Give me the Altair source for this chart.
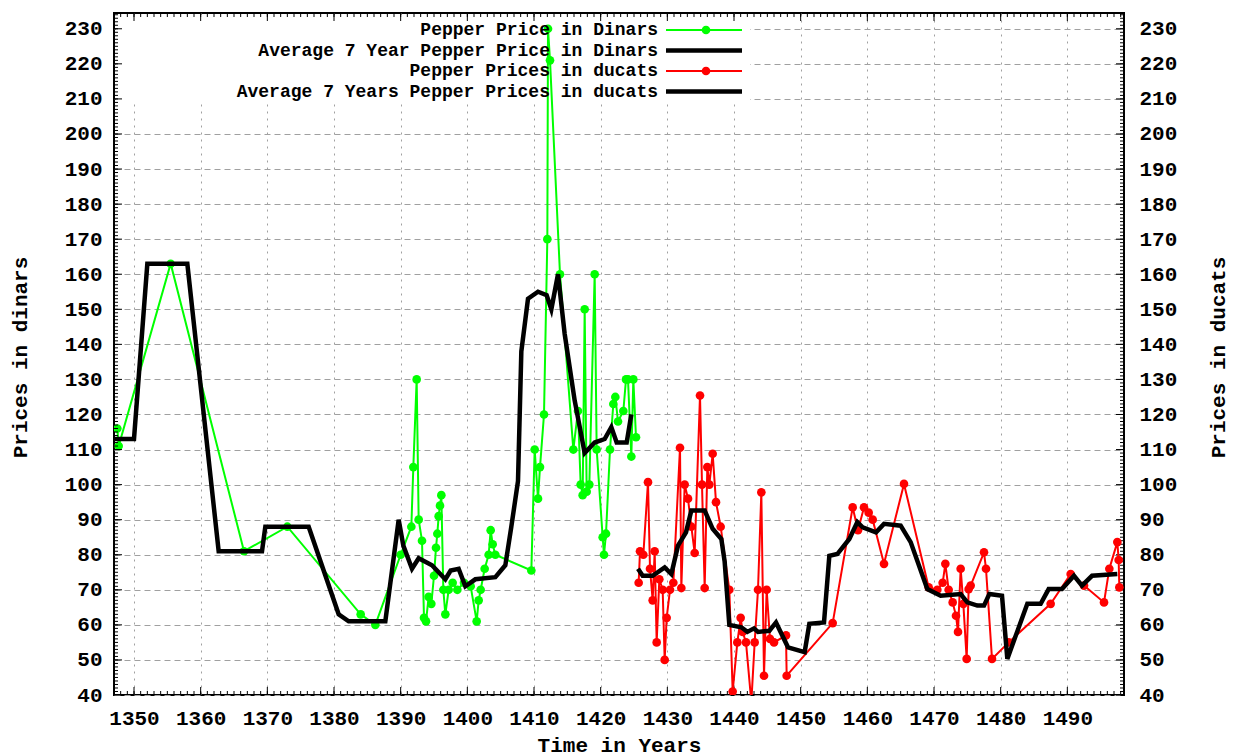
import altair as alt
import pandas as pd
import numpy as np

# ---------------- data ----------------
din_year = [1347.5, 1347.7, 1355.5, 1366.5, 1373.0, 1384.0, 1386.2, 1390.0, 1391.6, 1391.9,
            1392.4, 1392.7, 1393.2, 1393.5, 1393.8, 1394.2, 1394.6, 1395.0, 1395.3, 1395.5,
            1395.7, 1395.9, 1396.1, 1396.4, 1396.7, 1397.2, 1397.8, 1398.5, 1399.5, 1400.5,
            1401.4, 1401.7, 1402.0, 1402.6, 1403.2, 1403.5, 1403.8, 1404.2, 1409.6, 1410.1,
            1410.6, 1410.9, 1411.5, 1412.0, 1412.1, 1412.4, 1413.9, 1415.9, 1416.6, 1417.0,
            1417.3, 1417.6, 1417.9, 1418.3, 1419.1, 1419.4, 1420.3, 1420.5, 1420.8, 1421.4,
            1421.9, 1422.2, 1422.6, 1423.4, 1423.8, 1424.1, 1424.6, 1424.9, 1425.3]
din_price = [116, 111, 163, 81, 88, 63, 60, 80, 88, 105,
             130, 90, 84, 62, 61, 68, 66, 74, 82, 86,
             91, 94, 97, 70, 63, 70, 72, 70, 72, 71,
             61, 67, 70, 76, 80, 87, 83, 80, 75.5, 110,
             96, 105, 120, 170, 230, 221, 160, 110, 121, 100,
             97, 150, 98, 100, 160, 110, 85, 80, 86, 110,
             123, 125, 118, 121, 130, 130, 108, 130, 113.5]

avgd_year = [1346.8, 1350.0, 1352.0, 1358.0, 1362.7, 1369.2, 1369.7, 1376.2, 1380.7, 1382.2,
             1387.7, 1389.7, 1390.4, 1391.7, 1392.7, 1394.7, 1396.7, 1397.5, 1398.7, 1399.7,
             1401.2, 1404.2, 1405.7, 1406.6, 1407.6, 1408.1, 1409.1, 1410.6, 1411.9, 1412.6,
             1413.6, 1414.6, 1416.1, 1417.6, 1419.1, 1420.6, 1421.6, 1422.4, 1423.9, 1424.6]
avgd_price = [113, 113, 163, 163, 81, 81, 88, 88, 63, 61,
              61, 90, 82.6, 76, 79, 77, 73, 75.5, 76, 71,
              73, 73.6, 77, 88, 101, 138, 153, 155, 154, 150,
              160, 143, 124, 109, 112, 113, 116.4, 112, 112, 120]

duc_year = [1425.7, 1425.9, 1426.4, 1427.1, 1427.4, 1427.8, 1428.1, 1428.4, 1428.8, 1429.3,
            1429.6, 1429.9, 1430.4, 1430.9, 1431.9, 1432.1, 1432.6, 1433.1, 1433.6, 1434.1,
            1434.9, 1435.2, 1435.6, 1436.0, 1436.3, 1436.8, 1437.3, 1438.0, 1439.3, 1439.8,
            1440.5, 1441.0, 1441.3, 1441.8, 1442.6, 1443.1, 1443.6, 1444.1, 1444.5, 1444.9,
            1445.4, 1446.0, 1447.8, 1447.9, 1454.8, 1457.8, 1458.6, 1459.5, 1460.2, 1460.8,
            1462.5, 1465.5, 1469.2, 1470.5, 1471.3, 1471.7, 1472.2, 1472.8, 1473.3, 1473.6,
            1474.0, 1474.4, 1474.9, 1475.2, 1475.5, 1477.5, 1477.8, 1478.7, 1481.2, 1487.5,
            1490.5, 1492.5, 1495.5, 1496.3, 1497.5, 1497.7, 1497.8]
duc_price = [72, 81, 80, 100.7, 76, 67, 81, 55, 73, 70,
             50, 62, 70, 72, 110.5, 70.5, 100, 96, 88, 80.5,
             125.4, 100, 70.5, 105, 100, 108.8, 95, 88, 70, 41,
             55, 62, 58, 55, 38, 55, 70, 97.8, 45.5, 70,
             56, 55, 57, 45.5, 60.5, 93.5, 87, 93.5, 92, 90,
             77.4, 100.2, 70.7, 70, 72, 77.4, 70, 66.4, 62.6, 58,
             76, 66, 50.3, 70.2, 71.2, 80.7, 76, 50.3, 55, 66,
             74.5, 71.2, 66.4, 76, 83.6, 78.5, 70.7]

avgu_year = [1425.6, 1426.3, 1427.8, 1429.6, 1430.6, 1431.6, 1432.8, 1433.6, 1435.6, 1436.8,
             1438.1, 1438.6, 1439.3, 1441.1, 1442.0, 1443.0, 1443.6, 1445.3, 1446.3, 1448.1,
             1450.6, 1451.3, 1453.5, 1454.3, 1455.5, 1457.3, 1458.5, 1459.3, 1461.3, 1462.5,
             1465.0, 1466.5, 1469.0, 1471.0, 1474.0, 1475.0, 1476.5, 1477.5, 1478.3, 1480.2,
             1481.0, 1484.0, 1486.0, 1487.2, 1489.2, 1491.0, 1492.2, 1493.7, 1497.5]
avgu_price = [76, 74, 74, 76.4, 74.5, 82.6, 86.4, 92.6, 92.6, 87.4,
              84.5, 78, 60, 59.3, 58, 59, 58, 58.3, 60.7, 53.6,
              52.2, 60.3, 60.7, 79.7, 80.2, 84.5, 89.3, 87.8, 86.4, 88.8,
              88.3, 83.6, 70.2, 68.3, 68.8, 66.4, 65.5, 65.5, 68.8, 68.3,
              50.3, 66, 66, 70.2, 70.2, 74, 71.2, 74, 74.5]

x_labels = list(range(1350, 1491, 10))
y_labels = list(range(40, 231, 10))

legend_labels = ["Pepper Price in Dinars",
                 "Average 7 Year Pepper Price in Dinars",
                 "Pepper Prices in ducats",
                 "Average 7 Years Pepper Prices in ducats"]

# ---------------- layout / style ----------------
FONT = "Liberation Mono"
FS = 21
KFS = 18
W, H = 1010, 682
GREEN, RED, BLACK = "#00ff00", "#ff0000", "#000000"
PT = 75

xscale = alt.Scale(domain=[1347, 1498.5], nice=False, zero=False)
yscale = alt.Scale(domain=[40, 234.5], nice=False, zero=False)

X = alt.X("year:Q", scale=xscale,
          axis=alt.Axis(values=x_labels, format="d", title="Time in Years", grid=True,
                        labelPadding=12, labelFlush=False, titleX=505, titleY=50,
                        titleAlign="center", titleBaseline="middle"))
YL = alt.Y("price:Q", scale=yscale,
           axis=alt.Axis(orient="left", values=y_labels, grid=True, title="Prices in dinars",
                         labelPadding=12, labelFlush=False, titleAngle=270, titleX=-94, titleY=344,
                         titleAlign="center", titleBaseline="middle"))
YR = alt.Y("price:Q", scale=yscale,
           axis=alt.Axis(orient="right", values=y_labels, grid=False, title="Prices in ducats",
                         labelPadding=15, labelFlush=False, titleAngle=270, titleX=94, titleY=344,
                         titleAlign="center", titleBaseline="middle"))

din = pd.DataFrame({"year": din_year, "price": din_price})
avgd = pd.DataFrame({"year": avgd_year, "price": avgd_price})
duc = pd.DataFrame({"year": duc_year, "price": duc_price})
avgu = pd.DataFrame({"year": avgu_year, "price": avgu_price})
one = pd.DataFrame({"a": [0]})

# white box behind the key
box = alt.Chart(one).mark_rect(color="white").encode(
    x=alt.value(2), x2=alt.value(636), y=alt.value(2), y2=alt.value(89))

green_line = alt.Chart(din).transform_window(idx="row_number()").mark_line(
    color=GREEN, strokeWidth=2, clip=True).encode(x=X, y=YL, order="idx:Q")
green_pts = alt.Chart(din).mark_point(color=GREEN, filled=True, opacity=1, size=PT, clip=True).encode(x=X, y=YL)
black_din = alt.Chart(avgd).mark_line(color=BLACK, strokeWidth=4.5, clip=True).encode(x=X, y=YL)

# inward ticks on all four sides
xminor = pd.DataFrame({"year": np.arange(1348, 1499)})
xmajor = pd.DataFrame({"year": x_labels})
yminor = pd.DataFrame({"price": np.arange(41, 235)})
ymajor = pd.DataFrame({"price": y_labels})
ticks = []
for df, ln in ((xminor, 4), (xmajor, 8)):
    ticks.append(alt.Chart(df).mark_rule(color=BLACK, strokeWidth=1).encode(x=X, y=alt.value(H), y2=alt.value(H - ln)))
    ticks.append(alt.Chart(df).mark_rule(color=BLACK, strokeWidth=1).encode(x=X, y=alt.value(0), y2=alt.value(ln)))
for df, ln in ((yminor, 4), (ymajor, 8)):
    ticks.append(alt.Chart(df).mark_rule(color=BLACK, strokeWidth=1).encode(y=YL, x=alt.value(0), x2=alt.value(ln)))
    ticks.append(alt.Chart(df).mark_rule(color=BLACK, strokeWidth=1).encode(y=YL, x=alt.value(W), x2=alt.value(W - ln)))

# key
rows_y = [17, 37.5, 58, 78.5]
key_col = [GREEN, BLACK, RED, BLACK]
key_w = [2, 4.5, 2, 4.5]
key_pt = [True, False, True, False]
key = []
for lab, yy, col, sw, pt in zip(legend_labels, rows_y, key_col, key_w, key_pt):
    key.append(alt.Chart(one).mark_text(text=lab, align="right", baseline="middle", font=FONT,
                                        fontSize=KFS, fontWeight="bold", color=BLACK)
               .encode(x=alt.value(544), y=alt.value(yy)))
    key.append(alt.Chart(one).mark_rule(color=col, strokeWidth=sw)
               .encode(x=alt.value(552), x2=alt.value(628), y=alt.value(yy)))
    if pt:
        key.append(alt.Chart(one).mark_point(color=col, filled=True, opacity=1, size=PT)
                   .encode(x=alt.value(592), y=alt.value(yy)))

left = alt.layer(box, green_line, green_pts, black_din, *key, *ticks)

red_line = alt.Chart(duc).transform_window(idx="row_number()").mark_line(
    color=RED, strokeWidth=2, clip=True).encode(x=X, y=YR, order="idx:Q")
red_pts = alt.Chart(duc).mark_point(color=RED, filled=True, opacity=1, size=PT, clip=True).encode(x=X, y=YR)
black_duc = alt.Chart(avgu).mark_line(color=BLACK, strokeWidth=4.5, clip=True).encode(x=X, y=YR)

right = alt.layer(red_line, red_pts, black_duc)

chart = alt.layer(left, right).resolve_scale(y="independent").properties(
    width=W, height=H,
    padding={"left": 106, "top": 5, "right": 109, "bottom": 62},
    autosize=alt.AutoSizeParams(type="none"),
    background="white",
).configure_axis(
    labelFont=FONT, labelFontWeight="bold", labelFontSize=FS, labelColor=BLACK,
    titleFont=FONT, titleFontWeight="bold", titleFontSize=FS, titleColor=BLACK,
    gridColor="#a0a0a0", gridWidth=1, gridOpacity=1, domain=False, ticks=False,
).configure_axisX(gridDash=[2, 5]).configure_axisY(gridDash=[6, 4]).configure_view(
    stroke=BLACK, strokeWidth=2)

chart.save("out.html", embed_options={"renderer": "svg", "actions": False})
